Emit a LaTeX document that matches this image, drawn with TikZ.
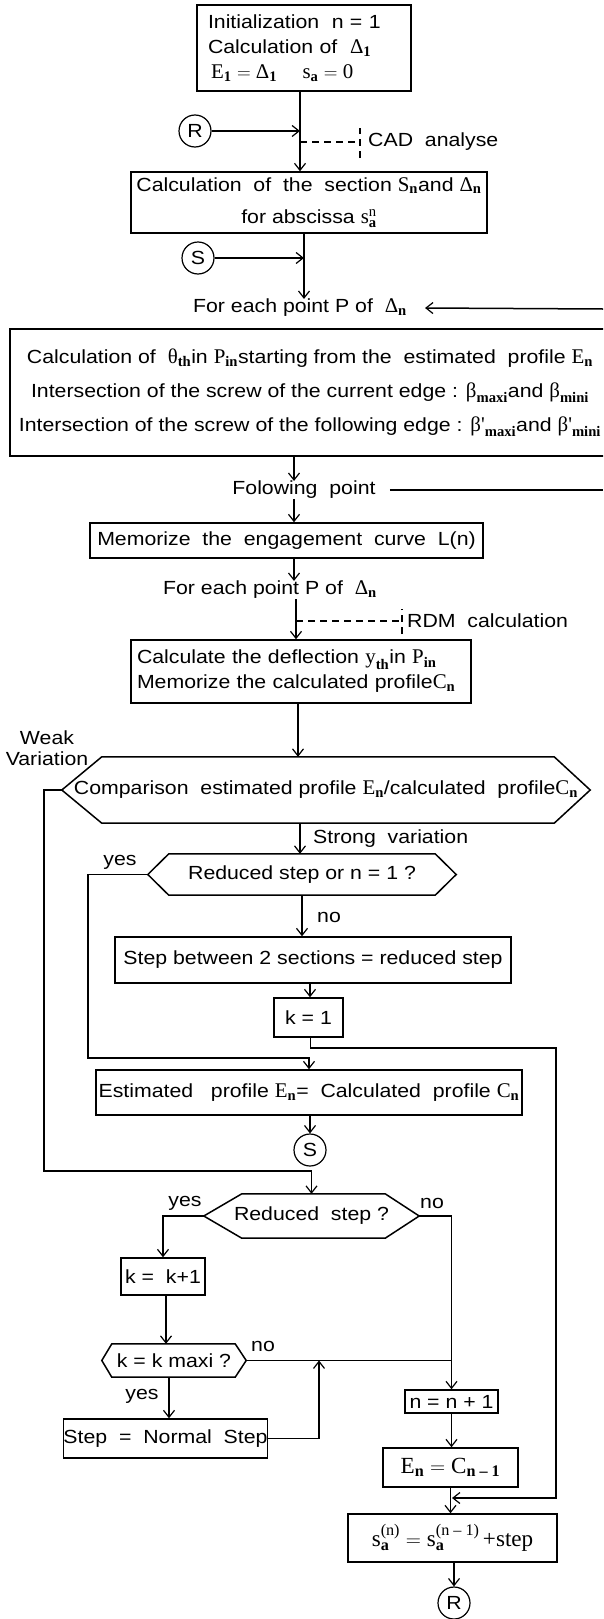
\RequirePackage{fix-cm}
\documentclass[tikz,border=0pt]{standalone}
\usepackage{amsmath}
\usepackage[no-math]{fontspec}
\setmainfont{Liberation Sans}[FakeStretch=1.12]
\newfontfamily\serif{Liberation Serif}[Scale=1.1]
\usetikzlibrary{arrows.meta}
\tikzset{
  box/.style={draw, line width=1.5pt, rectangle, inner sep=0pt, align=center},
  plain/.style={inner sep=0pt, align=center},
  conn/.style={draw, circle, line width=1.2pt, minimum size=32pt, inner sep=0pt},
  flow/.style={line width=1.5pt},
  arr/.style={flow, -{Straight Barb[length=7pt,width=11pt,line width=1.2pt]}},
  note/.style={line width=1.2pt, dash pattern=on 7pt off 5pt},
}
\newcommand{\hexdraw}[3]{\draw[flow] (#1.west) -- ([xshift=#2]#1.north west) -- ([xshift=-#3]#1.north east) -- (#1.east) -- ([xshift=-#3]#1.south east) -- ([xshift=#2]#1.south west) -- cycle;}
\newcommand{\ms}[2]{\text{\serif #1}_{\text{\serif\bfseries #2}}}
\begin{document}
\begin{tikzpicture}[x=1pt,y=-1pt,font=\fontsize{19}{25}\selectfont]
\useasboundingbox (0,0) rectangle (603,1619);
\clip (0,0) rectangle (603,1619);
% top block
\node[box, text width=192pt, inner xsep=11pt, minimum height=86pt, align=left] (init) at (304,48)
  {Initialization \ n = 1\\Calculation of \ $\ms{Δ}{1}$\\ \,$\ms{E}{1} = \ms{Δ}{1}$ \quad $\ms{s}{a} = \text{\serif 0}$};
\node[conn] (r1) at (195,131) {R};
\coordinate (rj) at (300,131);
\coordinate (cadp) at (300,142);
\coordinate (cadt) at (360,142);
\node[plain, anchor=west] (cad) at (368,142) {CAD \ analyse};
\node[box, minimum width=356pt, minimum height=61pt] (sec) at (309,202.5)
  {Calculation \ of \ the \ section $\ms{S}{n}$and $\ms{Δ}{n}$\\[7pt]for abscissa $\ms{s}{a}^{\text{\serif n}}$};
\node[conn] (s1) at (198,258) {S};
\coordinate (sj) at (304,258);
\node[plain] (fe1) at (300,308) {For each point P of \ $\ms{Δ}{n}$};
\coordinate (fe1r) at (603,309);
\node[box, minimum width=600pt, minimum height=127pt] (big) at (310,392.5)
  {Calculation of \ $\ms{θ}{th}$in $\ms{P}{in}$starting from the \ estimated \ profile $\ms{E}{n}$\\[9pt]
   Intersection of the screw of the current edge : $\ms{β}{maxi}$and $\ms{β}{mini}$\\[9pt]
   Intersection of the screw of the following edge : $\ms{β'}{maxi}$and $\ms{β'}{mini}$};
\node[plain] (fol) at (304,490) {Folowing \ point};
\coordinate (folr) at (603,490);
\node[box, minimum width=393pt, minimum height=35pt] (mem) at (286.5,540.5) {Memorize \ the \ engagement \ curve \ L(n)};
\node[plain] (fe2) at (270,590) {For each point P of \ $\ms{Δ}{n}$};
\coordinate (rdmp) at (296,621);
\coordinate (rdmt) at (402,621);
\node[plain, anchor=west] (rdm) at (407,621) {RDM \ calculation};
\node[box, minimum height=63pt, text width=328pt, inner xsep=6pt, align=left] (defl) at (301,671.5)
  {Calculate the deflection $\ms{y}{th}$in $\ms{P}{in}$\\Memorize the calculated profile$\ms{C}{n}$};
% comparison
\node[plain, minimum width=528pt, minimum height=66pt] (cmp) at (326,790)
  {Comparison \ estimated profile $\ms{E}{n}$/calculated \ profile$\ms{C}{n}$};
\hexdraw{cmp}{40pt}{36pt}
\node[plain, font=\fontsize{19}{21}\selectfont] (weak) at (47,748) {Weak\\Variation};
\node[plain, anchor=west] (strong) at (313,839) {Strong \ variation};
\node[plain, minimum width=308pt, minimum height=41pt] (rs1) at (302,874.5) {Reduced step or n = 1 ?};
\hexdraw{rs1}{21pt}{21pt}
\node[plain] (yes1) at (120,862) {yes};
\node[plain] (no1) at (329,917) {no};
\node[box, minimum width=396pt, minimum height=46pt] (stepb) at (313,960) {Step between 2 sections = reduced step};
\node[box, minimum width=69pt, minimum height=39pt] (k1) at (308.5,1017.5) {k = 1};
\node[box, minimum width=426pt, minimum height=45pt] (est) at (309,1092.5)
  {Estimated \ \ profile $\ms{E}{n}$= \ Calculated \ profile $\ms{C}{n}$};
\node[conn] (s2) at (310,1150) {S};
% lower part
\node[plain, minimum width=215pt, minimum height=44pt] (rs2) at (311.5,1216) {Reduced \ step ?};
\hexdraw{rs2}{38pt}{34pt}
\node[plain] (yes2) at (185,1203) {yes};
\node[plain] (no2) at (432,1203) {no};
\node[box, minimum width=84pt, minimum height=37pt] (kk1) at (163,1276.5) {k = \ k+1};
\node[plain, minimum width=144pt, minimum height=33pt] (kmax) at (174,1360.5) {k = k maxi ?};
\hexdraw{kmax}{10pt}{11pt}
\node[plain] (no3) at (263,1346) {no};
\node[plain] (yes3) at (142,1396) {yes};
\node[box, minimum width=195pt, minimum height=39pt] (norm) at (165.5,1438.5) {Step \ = \ Normal \ Step};
\coordinate (kj) at (451.5,1360.5);
\coordinate (nj) at (319,1360.5);
\node[box, minimum width=93pt, minimum height=23pt] (nn1) at (451.5,1401.5) {n = n + 1};
\node[box, minimum width=135pt, minimum height=39pt, font=\fontsize{21}{26}\selectfont] (en) at (450.5,1467.5) {$\ms{E}{n} = \ms{C}{n – 1}$};
\coordinate (sj2) at (452,1498);
\node[box, minimum width=209pt, minimum height=48pt, font=\fontsize{21}{26}\selectfont] (sb) at (452.5,1538)
  {$\ms{s}{a}^{\text{\serif (n)}} = \ms{s}{a}^{\text{\serif (n – 1)}}$\,\text{\serif +step}};
\node[conn] (r2) at (454,1603) {R};
% connectors
\draw[arr] ([xshift=-4pt]init.south) -- ([xshift=-4pt]init.south |- sec.north);
\draw[arr] (r1.east) -- (rj);
\draw[note] (cadp) -- (cadt);
\draw[note] ([yshift=-16pt]cadt) -- ([yshift=14pt]cadt);
\draw[arr] ([xshift=-5pt]sec.south) -- ([xshift=-5pt]sec.south |- fe1.north);
\draw[arr] (s1.east) -- (sj);
\draw[arr] (fe1r) -- ([xshift=18pt]fe1.east);
\draw[arr] ([xshift=-16pt]big.south) -- ([xshift=-16pt]big.south |- fol.north);
\draw[flow] ([xshift=14pt]fol.east) -- (folr);
\draw[arr] ([xshift=-10pt]fol.south) -- ([xshift=-10pt]fol.south |- mem.north);
\draw[arr] ([xshift=7.5pt]mem.south) -- ([xshift=7.5pt]mem.south |- fe2.north);
\draw[arr] ([xshift=26pt]fe2.south) -- ([xshift=26pt]fe2.south |- defl.north);
\draw[note] (rdmp) -- (rdmt);
\draw[note] ([yshift=-13pt]rdmt) -- ([yshift=12pt]rdmt);
\draw[arr] ([xshift=-3pt]defl.south) -- ([xshift=-3pt]defl.south |- cmp.north);
\draw[arr] (cmp.west) -| (44,1171) -- (rs2.north |- 44,1171) -- (rs2.north);
\draw[arr] ([xshift=-26pt]cmp.south) -- ([xshift=-26pt]cmp.south |- rs1.north);
\draw[arr] (rs1.west) -| (88,1058) -- (est.north |- 88,1058) -- (est.north);
\draw[arr] (rs1.south) -- (rs1.south |- stepb.north);
\draw[arr] ([xshift=-3pt]stepb.south) -- ([xshift=-3pt]stepb.south |- k1.north);
\draw[arr] ([xshift=2pt]k1.south) |- (556,1048) |- (sj2);
\draw[arr] (est.south -| s2) -- (s2.north);
\draw[arr] (rs2.west) -| (kk1.north);
\draw[arr] (rs2.east) -| (nn1.north);
\draw[arr] ([xshift=3pt]kk1.south) -- ([xshift=3pt]kk1.south |- kmax.north);
\draw[flow] (kmax.east) -- (kj);
\draw[arr] ([xshift=-5pt]kmax.south) -- ([xshift=-5pt]kmax.south |- norm.north);
\draw[arr] (norm.east) -| (nj);
\draw[arr] (nn1.south) -- (nn1.south |- en.north);
\draw[arr] (en.south) -- (en.south |- sb.north);
\draw[arr] (sb.south -| r2) -- (r2.north);
\end{tikzpicture}
\end{document}
